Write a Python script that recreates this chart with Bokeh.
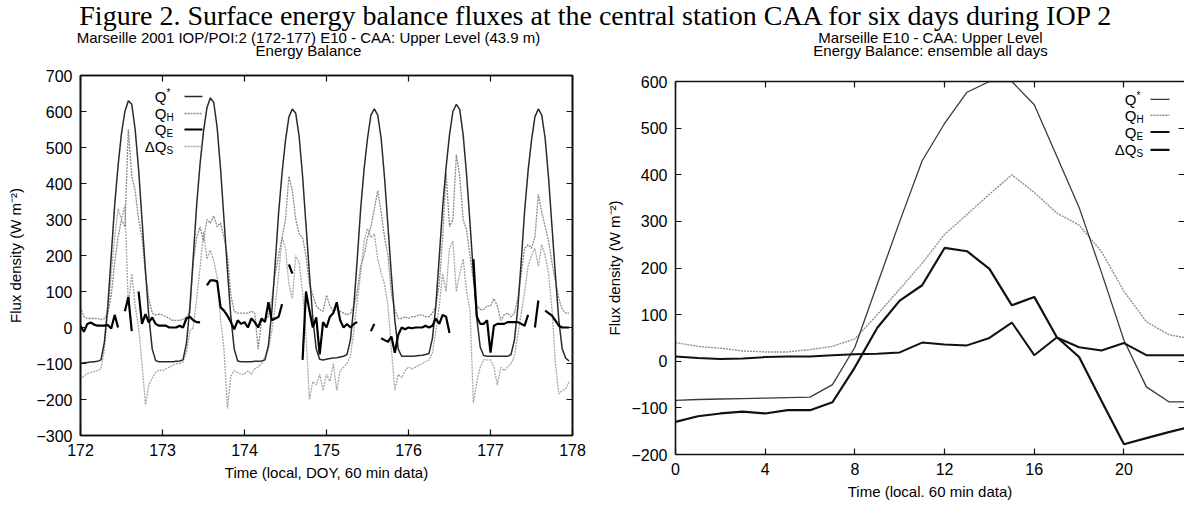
from bokeh.plotting import figure
from bokeh.layouts import column, row
from bokeh.models import (Range1d, LinearAxis, FixedTicker, CustomJSTickFormatter,
                          Label, Arrow, ColumnDataSource)
from bokeh.embed import file_html
from bokeh.resources import INLINE

nan = float("nan")

# ---------------- data ----------------
DAYS = [172, 173, 174, 175, 176, 177]
HOURS = list(range(24))

qstar_172 = [-100, -98, -97, -96, -95, -94, -90, -40, 60, 200, 340, 450, 540, 600, 630, 620, 550, 440, 300, 160, 30, -60, -92, -95]
qstar_173 = [-95, -95, -95, -95, -94, -93, -90, -45, 55, 195, 340, 455, 545, 610, 638, 625, 555, 440, 300, 160, 30, -60, -93, -95]
qstar_174 = [-95, -95, -95, -94, -94, -93, -90, -50, 45, 180, 320, 430, 520, 585, 607, 595, 530, 420, 285, 150, 25, -60, -88, -90]
qstar_175 = [-88, -86, -85, -84, -82, -80, -75, -35, 60, 190, 330, 440, 525, 590, 607, 590, 525, 415, 280, 145, 20, -60, -80, -80]
qstar_176 = [-80, -80, -79, -78, -77, -75, -72, -30, 60, 195, 335, 445, 535, 600, 620, 605, 535, 425, 290, 150, 25, -55, -78, -80]
qstar_177 = [-80, -80, -80, -80, -80, -80, -75, -35, 55, 185, 325, 435, 520, 585, 607, 590, 525, 415, 280, 145, 20, -60, -85, -93]

qh_172 = [56, 30, 25, 25, 25, 25, 22, 25, 40, 90, 180, 250, 300, 280, 550, 420, 380, 300, 250, 150, 80, 40, 35, 37]
qh_173 = [35, 30, 25, 20, 20, 20, 22, 30, 40, 180, 250, 280, 240, 300, 290, 310, 280, 290, 250, 200, 90, 45, 40, 40]
qh_174 = [40, 40, 45, 40, -60, 20, 25, 30, 80, 150, 200, 250, 300, 420, 380, 300, 260, 250, 200, 120, 90, 60, 50, 45]
qh_175 = [90, 60, 45, 50, 45, 40, 35, 40, 60, 100, 170, 200, 250, 280, 330, 380, 320, 250, 200, 93, 50, 25, 25, 30]
qh_176 = [25, 30, 30, 35, 35, 30, 30, 40, 60, 120, 250, 430, 280, 300, 480, 420, 300, 270, 200, 130, 60, 50, 50, 60]
qh_177 = [60, 80, 60, 20, 35, 40, 30, 40, 80, 150, 220, 230, 220, 250, 370, 320, 280, 240, 180, 130, 80, 50, 40, 40]

qe_172 = [5, -12, 10, 14, 8, 5, 5, 5, 7, -3, 35, 0, nan, 45, 85, -10, nan, 100, 10, 37, 14, 28, 10, 5]
qe_173 = [5, 5, 0, 0, 0, 5, 0, 25, 30, 20, 15, 14, nan, 117, 131, 131, 128, 56, 47, 33, 15, -5, 20, 10]
qe_174 = [15, 0, 25, 15, 0, 25, 15, 70, 20, 25, 30, 65, nan, 175, 150, nan, nan, -90, 100, 47, 0, 28, -75, 15]
qe_175 = [0, 30, 40, 70, 20, 0, 10, 0, 10, 15, nan, nan, nan, -10, 10, nan, -30, -35, -40, -25, -70, -20, 0, -5]
qe_176 = [0, -2, 0, 0, 0, 5, 0, 5, 25, 10, 35, 30, -15, nan, nan, nan, nan, nan, nan, 190, 30, 10, 10, 20]
qe_177 = [-70, 5, 10, 10, 10, 15, 15, 15, 15, 10, 5, 35, nan, 0, 75, nan, 47, 40, 33, 19, 5, 0, 0, 0]

dqs_172 = [-145, -135, -128, -125, -122, -120, -115, -60, 40, 150, 250, 330, 300, 340, 60, 150, 60, 0, -100, -215, -160, -140, -125, -118]
dqs_173 = [-120, -115, -110, -105, -100, -100, -95, -70, -10, 0, 80, 165, 265, 190, 215, 185, 140, 20, -60, -225, -135, -120, -125, -130]
dqs_174 = [-130, -120, -130, -115, -110, -100, -80, -60, -10, 60, 150, 250, 220, 120, 80, 200, 180, 100, -20, -200, -150, -160, -130, -175]
dqs_175 = [-130, -150, -100, -175, -120, -110, -100, -80, -10, 75, 150, 240, 275, 250, 260, 190, 150, 120, 60, -60, -175, -130, -140, -120]
dqs_176 = [-110, -115, -110, -105, -100, -95, -90, -70, -10, 60, 150, 100, 220, 240, 100, 150, 190, 100, 50, -210, -150, -110, -90, -90]
dqs_177 = [-90, -110, -160, -110, -120, -110, -100, -80, -20, 40, 100, 170, 200, 220, 170, 230, 200, 150, 50, -100, -185, -175, -170, -150]

ENS_HOURS = list(range(24))
ens_qstar = [-84, -82, -81, -80, -79, -78, -77, -50, 30, 165, 300, 430, 510, 577, 600, 600, 550, 440, 330, 190, 45, -55, -87, -87]
ens_qh = [40, 32, 28, 22, 20, 20, 25, 32, 48, 100, 155, 210, 272, 315, 358, 400, 362, 318, 292, 235, 150, 85, 57, 48]
ens_qe = [10, 7, 5, 6, 9, 10, 10, 13, 15, 16, 19, 40, 36, 34, 50, 83, 13, 51, 30, 23, 39, 13, 13, 13]
ens_dqs = [-130, -118, -112, -108, -112, -105, -105, -88, -13, 72, 130, 163, 243, 236, 198, 120, 138, 52, 9, -85, -178, -165, -152, -140]

LEFT_XTICKS = [172, 173, 174, 175, 176, 177, 178]
LEFT_YTICKS = [-300, -200, -100, 0, 100, 200, 300, 400, 500, 600, 700]
RIGHT_XTICKS = [0, 4, 8, 12, 16, 20, 24]
RIGHT_YTICKS = [-200, -100, 0, 100, 200, 300, 400, 500, 600]

TITLE = "Figure 2. Surface energy balance fluxes at the central station CAA for six days during IOP 2"
LEFT_SUB = ["Marseille 2001 IOP/POI:2 (172-177) E10 - CAA: Upper Level (43.9 m)", "Energy Balance"]
RIGHT_SUB = ["Marseille E10 - CAA: Upper Level", "Energy Balance: ensemble all days"]
YLABEL = "Flux density (W m\u207b\u00b2)"
LEFT_XLABEL = "Time (local, DOY, 60 min data)"
RIGHT_XLABEL = "Time (local. 60 min data)"

# ---------------- styles / layout ----------------
SANS = "Liberation Sans"
SERIF = "Liberation Serif"
INK = "#111111"
HEAD_H = 66               # height of the heading strip (title + subtitles)
ROW_TOP = 8 + HEAD_H      # page y where the two panels start
H = 502 - HEAD_H          # panel height


def style_axis(ax, ticks, labels=True, standoff=8):
    ax.ticker = FixedTicker(ticks=ticks)
    ax.axis_line_color = INK
    ax.axis_line_width = 1.6
    ax.major_tick_in = 6
    ax.major_tick_out = 0
    ax.minor_tick_in = 0
    ax.minor_tick_out = 0
    ax.major_tick_line_color = INK
    ax.major_tick_line_width = 1.2
    if labels:
        ax.major_label_text_font = SANS
        ax.major_label_text_font_size = "16px"
        ax.major_label_text_color = "#000000"
        ax.major_label_standoff = standoff
        ax.axis_label_text_font = SANS
        ax.axis_label_text_font_size = "15px"
        ax.axis_label_text_font_style = "normal"
        ax.axis_label_text_color = "#000000"
    else:
        ax.formatter = CustomJSTickFormatter(code="return ''")
        ax.major_label_text_font_size = "0px"
        ax.major_label_standoff = 0


def make_fig(xr, yr, width, height, mbl, mbr, mbt, mbb, xticks, yticks, xlabel, right_line=True):
    p = figure(width=width, height=height, x_range=xr, y_range=yr, title=None,
               output_backend="svg", toolbar_location=None,
               min_border_left=mbl, min_border_right=mbr,
               min_border_top=mbt, min_border_bottom=mbb)
    p.grid.visible = False
    p.background_fill_color = "white"
    p.border_fill_color = "white"
    p.outline_line_color = INK if right_line else None
    p.outline_line_width = 1.6
    style_axis(p.xaxis[0], xticks)
    style_axis(p.yaxis[0], yticks)
    p.xaxis[0].axis_label = xlabel
    p.yaxis[0].axis_label = YLABEL
    top = LinearAxis()
    style_axis(top, xticks, labels=False)
    p.add_layout(top, "above")
    rgt = LinearAxis()
    style_axis(rgt, yticks, labels=False)
    if not right_line:
        rgt.axis_line_color = None
    p.add_layout(rgt, "right")
    return p


def legend(p, to_x, to_y, rows, text_px, line_px):
    """rows: list of (main, script, superscript?, color, width, dash, row_py)."""
    for main, script, sup, color, width, dash, py in rows:
        y = to_y(py)
        xt = to_x(text_px)
        p.add_layout(Label(x=xt, y=y, text=main, text_align="right", text_baseline="middle",
                           x_offset=-8, text_font=SANS, text_font_size="15px", text_color="#000000"))
        p.add_layout(Label(x=xt, y=y, text=script, text_align="left", text_baseline="middle",
                           x_offset=-8, y_offset=(4 if sup else -4), text_font=SANS,
                           text_font_size="10px", text_color="#000000"))
        p.add_layout(Arrow(end=None, x_start=to_x(line_px[0]), y_start=y, x_end=to_x(line_px[1]), y_end=y,
                           line_color=color, line_width=width, line_dash=dash))


# ---------------- heading strip: main title + panel subtitles ----------------
pt = figure(width=1184, height=HEAD_H, x_range=Range1d(8, 1192), y_range=Range1d(8 + HEAD_H, 8),
            output_backend="svg", toolbar_location=None, x_axis_type=None, y_axis_type=None,
            min_border=0, title=None)
pt.grid.visible = False
pt.outline_line_color = None
pt.add_layout(Label(x=604, y=23, text=TITLE, text_align="center", text_baseline="middle",
                    text_font=SERIF, text_font_size="28px", text_color="#000000"))
for cx, lines in ((316, LEFT_SUB), (938, RIGHT_SUB)):
    for txt, py in zip(lines, (45, 58)):
        pt.add_layout(Label(x=cx, y=py, text=txt, text_align="center", text_baseline="middle",
                            text_font=SANS, text_font_size="15px", text_color="#000000"))

# ---------------- left panel ----------------
# frame: page x 88..580 -> 172..178 ; page y 83..443 -> 700..-300
LW = 592
pl = make_fig(Range1d(172, 178), Range1d(-300, 700), LW, H, 80, 20, 83 - ROW_TOP, ROW_TOP + H - 443,
              LEFT_XTICKS, LEFT_YTICKS, LEFT_XLABEL)
pl.xaxis[0].axis_label_standoff = 7
pl.yaxis[0].axis_label_standoff = 9

lx = [d + h / 24.0 for d in DAYS for h in HOURS]
left_src = ColumnDataSource(dict(
    x=lx,
    qstar=qstar_172 + qstar_173 + qstar_174 + qstar_175 + qstar_176 + qstar_177,
    qh=qh_172 + qh_173 + qh_174 + qh_175 + qh_176 + qh_177,
    qe=qe_172 + qe_173 + qe_174 + qe_175 + qe_176 + qe_177,
    dqs=dqs_172 + dqs_173 + dqs_174 + dqs_175 + dqs_176 + dqs_177,
))
pl.line("x", "dqs", source=left_src, line_color="#a6a6a6", line_width=1.3, line_dash="2 1")
pl.line("x", "qh", source=left_src, line_color="#8a8a8a", line_width=1.3, line_dash="2 1")
pl.line("x", "qstar", source=left_src, line_color="#2a2a2a", line_width=1.5)
pl.line("x", "qe", source=left_src, line_color="#000000", line_width=2.2)

l_to_x = lambda px: 172 + (px - 88) / 82.0
l_to_y = lambda py: (335 - py) / 0.36
legend(pl, l_to_x, l_to_y, [
    ("Q", "*", True, "#2a2a2a", 1.5, "solid", 104),
    ("Q", "H", False, "#8a8a8a", 1.3, "2 1", 121),
    ("Q", "E", False, "#000000", 2.2, "solid", 137),
    ("\u0394Q", "S", False, "#a6a6a6", 1.3, "2 1", 154),
], 182, (192, 210))

# ---------------- right panel ----------------
# frame: page x 683..1192 -> 0..22.7 ; page y 89..465 -> 600..-200
RW = 592
pr = make_fig(Range1d(0, 22.7), Range1d(-200, 600), RW, H, 83, 0, 89 - ROW_TOP, ROW_TOP + H - 465,
              RIGHT_XTICKS, RIGHT_YTICKS, RIGHT_XLABEL, right_line=False)
pr.xaxis[0].major_label_standoff = 6
pr.xaxis[0].axis_label_standoff = 3
pr.yaxis[0].axis_label_standoff = 5

right_src = ColumnDataSource(dict(x=ENS_HOURS, qstar=ens_qstar, qh=ens_qh, qe=ens_qe, dqs=ens_dqs))
pr.line("x", "qh", source=right_src, line_color="#8f8f8f", line_width=1.4, line_dash="2 1")
pr.line("x", "qstar", source=right_src, line_color="#3a3a3a", line_width=1.3)
pr.line("x", "qe", source=right_src, line_color="#111111", line_width=2.0)
pr.line("x", "dqs", source=right_src, line_color="#111111", line_width=2.2)

r_ppx = 509 / 22.7
r_to_x = lambda px: (px - 683) / r_ppx
r_to_y = lambda py: 600 - (py - 89) / (376 / 800.0)
legend(pr, r_to_x, r_to_y, [
    ("Q", "*", True, "#3a3a3a", 1.3, "solid", 107),
    ("Q", "H", False, "#8f8f8f", 1.4, "2 1", 123),
    ("Q", "E", False, "#111111", 2.0, "solid", 140),
    ("\u0394Q", "S", False, "#111111", 2.2, "solid", 158),
], 1152, (1158, 1177))

# wrap each panel separately so that their frames are not forced into alignment
layout = column(pt, row(column(pl), column(pr)))
open("out.html", "w").write(file_html(layout, INLINE))
